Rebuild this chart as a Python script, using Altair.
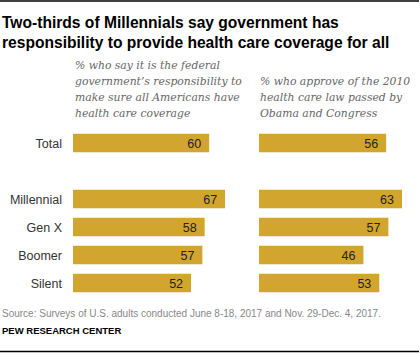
import altair as alt
import pandas as pd

categories = ["Total", " ", "Millennial", "Gen X", "Boomer", "Silent"]
groups = ["Total", "Millennial", "Gen X", "Boomer", "Silent"]
gov_responsibility = [60, 67, 58, 57, 52]
approve_aca = [56, 63, 57, 46, 53]

title_lines = ["Two-thirds of Millennials say government has",
               "responsibility to provide health care coverage for all"]
left_sub = ["% who say it is the federal", "government\u2019s responsibility to",
            "make sure all Americans have", "health care coverage"]
right_sub = ["% who approve of the 2010", "health care law passed by",
             "Obama and Congress"]
source = "Source: Surveys of U.S. adults conducted June 8-18, 2017 and Nov. 29-Dec. 4, 2017."
credit = "PEW RESEARCH CENTER"

BAR = "#D2A52E"
SANS = "Liberation Sans"
SERIF = "DejaVu Serif"

df = pd.DataFrame({"group": groups, "gov": gov_responsibility, "aca": approve_aca})

yscale = alt.Scale(domain=categories, range=[129, 297], paddingInner=0, paddingOuter=0)
y = alt.Y("group:N", scale=yscale, axis=None)

def panel(field, x0):
    xs = alt.Scale(domain=[0, 100], range=[x0, x0 + 227])
    bars = alt.Chart(df).mark_bar(size=18.5, color=BAR).encode(
        x=alt.X(f"{field}:Q", scale=xs, axis=None), y=y)
    labels = alt.Chart(df).mark_text(align="right", dx=-8, dy=1, font=SANS,
                                     fontSize=12.5, color="#222").encode(
        x=alt.X(f"{field}:Q", scale=xs, axis=None), y=y, text=f"{field}:Q")
    return alt.layer(bars, labels)

left = panel("gov", 73)
right = panel("aca", 259)

cats = alt.Chart(df).mark_text(align="right", font=SANS, fontSize=12.5, color="#333", dy=1).encode(
    x=alt.value(62), y=y, text="group:N")

def text_lines(lines, x, y0, step, **kw):
    layers = []
    for i, line in enumerate(lines):
        layers.append(alt.Chart(pd.DataFrame({"t": [line]})).mark_text(
            align="left", baseline="alphabetic", **kw).encode(
            x=alt.value(x), y=alt.value(y0 + i * step), text="t:N"))
    return layers

title = text_lines(title_lines, 2, 27.5, 20, font=SANS, fontSize=15.6, fontWeight="bold", color="#000")
lsub = text_lines(left_sub, 75, 68.5, 16, font=SERIF, fontSize=10.8, fontStyle="italic", color="#666")
rsub = text_lines(right_sub, 260, 84.5, 16, font=SERIF, fontSize=10.8, fontStyle="italic", color="#666")
src = text_lines([source], 2, 316.5, 0, font=SANS, fontSize=10, color="#888")
cred = text_lines([credit], 2, 334, 0, font=SANS, fontSize=9.5, fontWeight="bold", color="#000")

rule_df = pd.DataFrame({"a": [0]})
top = alt.Chart(rule_df).mark_rule(color="#000", strokeWidth=1.5).encode(
    x=alt.value(0), x2=alt.value(419), y=alt.value(1))
bottom = alt.Chart(rule_df).mark_rule(color="#000", strokeWidth=1.5).encode(
    x=alt.value(0), x2=alt.value(419), y=alt.value(351.5))

chart = alt.layer(left, right, cats, *title, *lsub, *rsub, *src, *cred, top, bottom).resolve_scale(
    x="independent").properties(
    width=420, height=354, padding=0, autosize=alt.AutoSizeParams(type="none"),
    background="white").configure_view(stroke=None)

chart.save("out.html", embed_options={"renderer": "svg", "actions": False})
